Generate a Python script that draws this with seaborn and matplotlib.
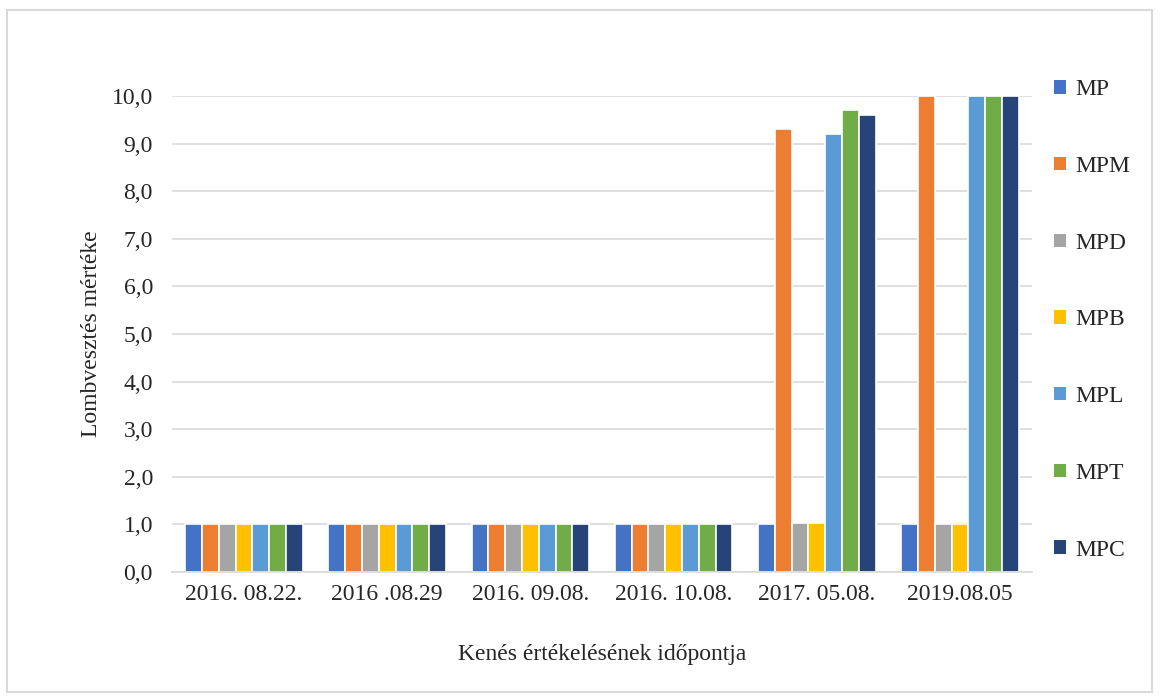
import pandas as pd
import matplotlib.pyplot as plt
import seaborn as sns
from matplotlib.patches import Rectangle, Patch

# Dates of evaluation and treatments
dates = ["2016. 08.22.", "2016 .08.29", "2016. 09.08.", "2016. 10.08.", "2017. 05.08.", "2019.08.05"]
series = ["MP", "MPM", "MPD", "MPB", "MPL", "MPT", "MPC"]
colors = ["#4472C4", "#ED7D31", "#A5A5A5", "#FFC000", "#5B9BD5", "#70AD47", "#264478"]

MP = [1.0, 1.0, 1.0, 1.0, 1.0, 1.0]
MPM = [1.0, 1.0, 1.0, 1.0, 9.3, 10.0]
MPD = [1.0, 1.0, 1.0, 1.0, 1.03, 1.0]
MPB = [1.0, 1.0, 1.0, 1.0, 1.03, 1.0]
MPL = [1.0, 1.0, 1.0, 1.0, 9.2, 10.0]
MPT = [1.0, 1.0, 1.0, 1.0, 9.7, 10.0]
MPC = [1.0, 1.0, 1.0, 1.0, 9.6, 10.0]

values = {"MP": MP, "MPM": MPM, "MPD": MPD, "MPB": MPB, "MPL": MPL, "MPT": MPT, "MPC": MPC}
rows = []
for s in series:
    for d, v in zip(dates, values[s]):
        rows.append({"date": d, "series": s, "value": v})
df = pd.DataFrame(rows)

sns.set_style("white")
plt.rcParams["font.family"] = ["Liberation Serif", "DejaVu Serif"]
fs = 17

fig = plt.figure(figsize=(11.6, 6.99), dpi=100)
ax = fig.add_axes([172.4 / 1160, 1 - 572 / 699, (1031.6 - 172.4) / 1160, (572 - 96) / 699])

sns.barplot(data=df, x="date", y="value", hue="series", order=dates, hue_order=series,
            palette=colors, saturation=1, width=0.82, edgecolor="white", linewidth=1.2,
            ax=ax, legend=False)

ax.set_ylim(0, 10)
ax.set_yticks([i for i in range(11)])
ax.set_yticklabels([f"{i},0" for i in range(11)], fontsize=fs)
ax.tick_params(axis="y", length=0, pad=14)
ax.tick_params(axis="x", length=0, pad=9, labelsize=fs)
ax.yaxis.grid(True, color="#D9D9D9", linewidth=1.2)
ax.set_axisbelow(True)
for side in ["left", "right", "top"]:
    ax.spines[side].set_visible(False)
ax.spines["bottom"].set_color("#D9D9D9")
ax.spines["bottom"].set_linewidth(1.2)

ax.set_ylabel("Lombvesztés mértéke", fontsize=fs, labelpad=7)
ax.set_xlabel("Kenés értékelésének időpontja", fontsize=fs, labelpad=28)

handles = [Patch(facecolor=c, edgecolor="none") for c in colors]
fig.legend(handles, series, loc="upper left", bbox_to_anchor=(1033 / 1160, 1 - 58 / 699),
           frameon=False, fontsize=fs, handlelength=0.5, handleheight=0.5,
           handletextpad=0.4, labelspacing=2.36)

# light chart border
fig.patches.append(Rectangle((7 / 1160, 1 - 692 / 699), 1145 / 1160, 682 / 699,
                             transform=fig.transFigure, fill=False,
                             edgecolor="#D9D9D9", linewidth=1.5))

fig.savefig("out.png", dpi=100)
